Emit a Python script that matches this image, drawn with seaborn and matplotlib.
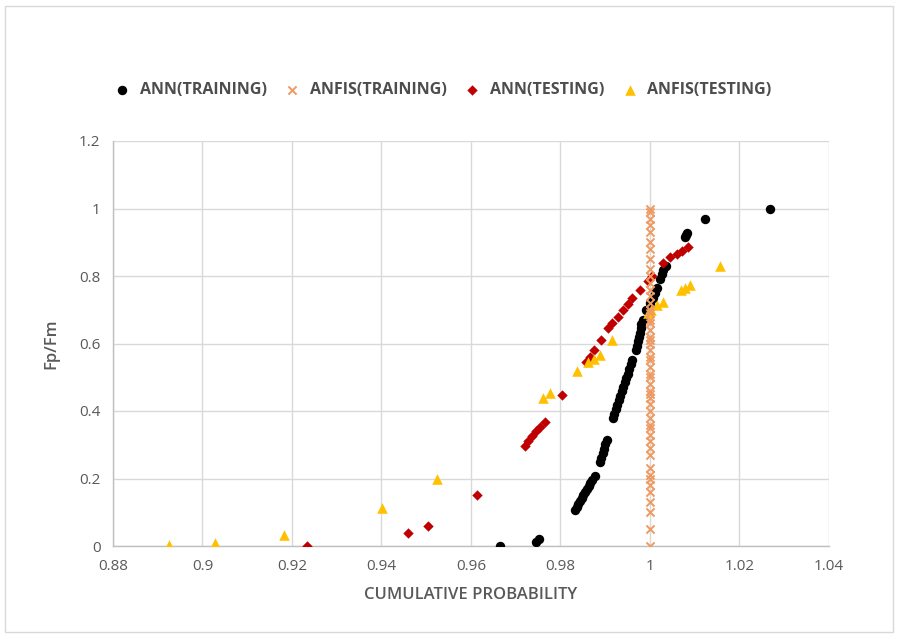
import seaborn as sns
import pandas as pd
import matplotlib
import matplotlib.pyplot as plt
from matplotlib.patches import Rectangle

# ANN (training)
ann_train_x = [0.9665, 0.9745, 0.9752,
               0.9832, 0.9836, 0.9840, 0.9843, 0.9847, 0.9851, 0.9855, 0.9859, 0.9863, 0.9867, 0.9871, 0.9876,
               0.9888, 0.9891, 0.9894, 0.9897, 0.9900, 0.9904,
               0.9917, 0.9920, 0.9924, 0.9927, 0.9930, 0.9934, 0.9937, 0.9940, 0.9944, 0.9947, 0.9950, 0.9954, 0.9957, 0.9960,
               0.9969, 0.9971, 0.9973, 0.9975, 0.9977, 0.9979, 0.9981, 0.9984,
               0.9992, 1.0000, 1.0006, 1.0011, 1.0016, 1.0022, 1.0026, 1.0029, 1.0035,
               1.0078, 1.0081, 1.0083, 1.0123, 1.0268]
ann_train_y = [0.0, 0.012, 0.02,
               0.107, 0.115, 0.124, 0.132, 0.141, 0.150, 0.159, 0.168, 0.177, 0.186, 0.196, 0.208,
               0.249, 0.262, 0.275, 0.288, 0.301, 0.314,
               0.379, 0.392, 0.405, 0.418, 0.432, 0.445, 0.458, 0.471, 0.485, 0.498, 0.511, 0.524, 0.538, 0.551,
               0.580, 0.593, 0.606, 0.619, 0.632, 0.645, 0.658, 0.670,
               0.700, 0.720, 0.735, 0.750, 0.765, 0.790, 0.805, 0.818, 0.830,
               0.915, 0.922, 0.927, 0.970, 1.0]

# ANFIS (training)
anfis_train_y = [0.0, 0.05, 0.10, 0.13, 0.16, 0.18, 0.20, 0.21, 0.23, 0.27, 0.29, 0.31, 0.33, 0.35,
                 0.36, 0.38, 0.40, 0.42, 0.44, 0.45, 0.46, 0.48, 0.50, 0.51, 0.53, 0.55, 0.56, 0.58,
                 0.60, 0.61, 0.62, 0.64, 0.66, 0.67, 0.69, 0.70, 0.72, 0.74, 0.76, 0.78, 0.80, 0.82,
                 0.85, 0.88, 0.90, 0.93, 0.95, 0.97, 0.99, 1.0]
anfis_train_x = [1.0] * len(anfis_train_y)

# ANN (testing)
ann_test_x = [0.9234, 0.9459, 0.9504, 0.9613, 0.9721, 0.9728, 0.9736, 0.9745, 0.9755, 0.9765,
              0.9803, 0.9858, 0.9866, 0.9874, 0.9890, 0.9906, 0.9916, 0.9928, 0.9940, 0.9950,
              0.9960, 0.9978, 0.9995, 1.0004, 1.0030, 1.0045, 1.0060, 1.0072, 1.0085]
ann_test_y = [0.0, 0.039, 0.059, 0.151, 0.296, 0.31, 0.325, 0.34, 0.353, 0.367,
              0.447, 0.545, 0.56, 0.58, 0.61, 0.646, 0.66, 0.68, 0.70, 0.718,
              0.735, 0.759, 0.785, 0.80, 0.84, 0.857, 0.865, 0.875, 0.886]

# ANFIS (testing)
anfis_test_x = [0.8925, 0.9028, 0.9182, 0.9401, 0.9524, 0.9761, 0.9777, 0.9837, 0.9861, 0.9875,
                0.9888, 0.9915, 0.9996, 1.0002, 1.0016, 1.0030, 1.0070, 1.0078, 1.0090, 1.0156]
anfis_test_y = [0.003, 0.009, 0.033, 0.112, 0.198, 0.438, 0.453, 0.52, 0.545, 0.555,
                0.566, 0.61, 0.69, 0.70, 0.715, 0.723, 0.758, 0.764, 0.772, 0.83]

series_names = ["ANN(TRAINING)", "ANFIS(TRAINING)", "ANN(TESTING)", "ANFIS(TESTING)"]
xticks = [0.88, 0.9, 0.92, 0.94, 0.96, 0.98, 1, 1.02, 1.04]
xtick_labels = ["0.88", "0.9", "0.92", "0.94", "0.96", "0.98", "1", "1.02", "1.04"]
yticks = [0, 0.2, 0.4, 0.6, 0.8, 1, 1.2]
ytick_labels = ["0", "0.2", "0.4", "0.6", "0.8", "1", "1.2"]

sns.set_style("white")
plt.rcParams["font.family"] = ["Open Sans", "DejaVu Sans"]

TXT = "#595959"
GRID = "#d9d9d9"

fig = plt.figure(figsize=(8.98, 6.38), dpi=100)
ax = fig.add_axes([113 / 898, 1 - 546 / 638, (829 - 113) / 898, (546 - 141) / 638])

# light frame round the chart
fig.patches.append(Rectangle((5 / 898, 6 / 638), 888 / 898, 626 / 638, transform=fig.transFigure,
                             fill=False, edgecolor="#d9d9d9", linewidth=1))

df1 = pd.DataFrame({"x": ann_train_x, "y": ann_train_y})
df2 = pd.DataFrame({"x": anfis_train_x, "y": anfis_train_y})
df3 = pd.DataFrame({"x": ann_test_x, "y": ann_test_y})
df4 = pd.DataFrame({"x": anfis_test_x, "y": anfis_test_y})

sns.scatterplot(ax=ax, data=df1, x="x", y="y", marker="o", color="black", s=46,
                edgecolor="black", linewidth=0, label=series_names[0], zorder=3)
sns.scatterplot(ax=ax, data=df2, x="x", y="y", marker="x", color="#ee9a62", s=34,
                linewidth=1.4, label=series_names[1], zorder=4)
sns.scatterplot(ax=ax, data=df3, x="x", y="y", marker="D", color="#c00000", s=28,
                edgecolor="#c00000", linewidth=0, label=series_names[2], zorder=3)
sns.scatterplot(ax=ax, data=df4, x="x", y="y", marker="^", color="#ffc000", s=58,
                edgecolor="#ffc000", linewidth=0, label=series_names[3], zorder=3)

ax.set_xlim(0.88, 1.04)
ax.set_ylim(0, 1.2)
ax.set_xticks(xticks)
ax.set_xticklabels(xtick_labels)
ax.set_yticks(yticks)
ax.set_yticklabels(ytick_labels)
ax.grid(True, color=GRID, linewidth=1)
ax.set_axisbelow(True)
for side in ["top", "right"]:
    ax.spines[side].set_visible(False)
for side in ["left", "bottom"]:
    ax.spines[side].set_color("#bfbfbf")
    ax.spines[side].set_linewidth(1)
ax.tick_params(axis="both", length=0, labelsize=11, colors=TXT, pad=9)

ax.set_xlabel("CUMULATIVE PROBABILITY", fontsize=12, color=TXT, weight="semibold", labelpad=10)
ax.set_ylabel("Fp/Fm", fontsize=12, color=TXT, weight="semibold", labelpad=14)

ax.legend(loc="center", bbox_to_anchor=(0.455, 1.125), ncol=4, frameon=False,
          handletextpad=0.1, columnspacing=0.6, markerscale=1.0,
          prop={"size": 11.5, "weight": "bold"}, labelcolor="#4d4d4d")

fig.savefig("out.png", dpi=100, facecolor="white")
